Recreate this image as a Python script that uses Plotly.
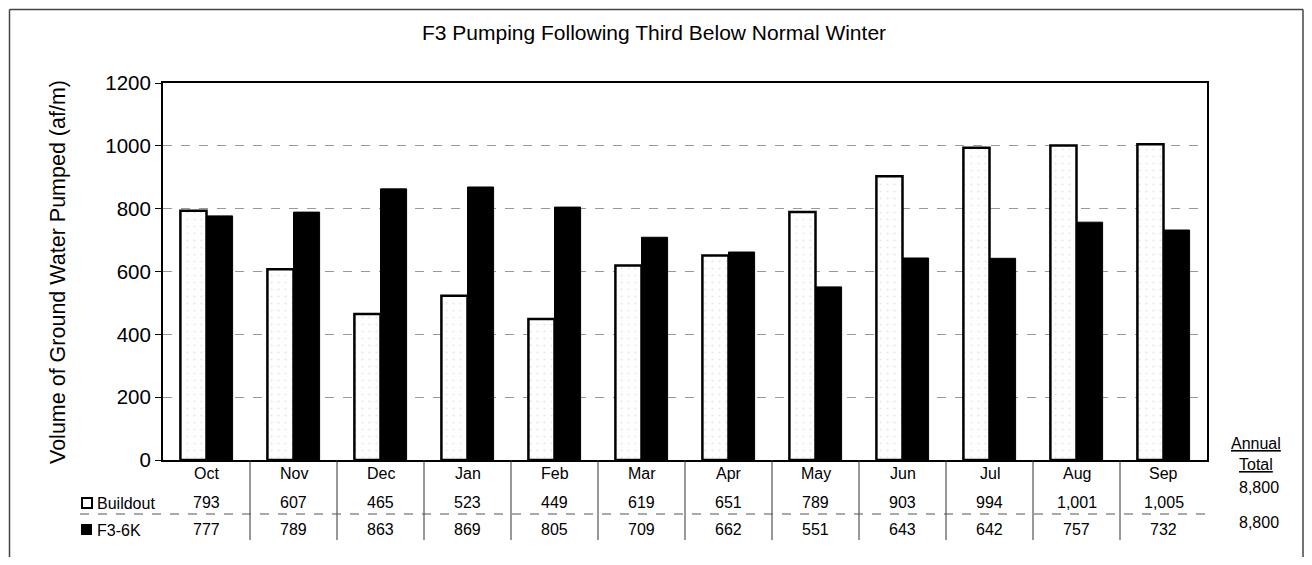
import plotly.graph_objects as go

months = ["Oct", "Nov", "Dec", "Jan", "Feb", "Mar", "Apr", "May", "Jun", "Jul", "Aug", "Sep"]
buildout = [793, 607, 465, 523, 449, 619, 651, 789, 903, 994, 1001, 1005]
f3_6k = [777, 789, 863, 869, 805, 709, 662, 551, 643, 642, 757, 732]
series_names = ["Buildout", "F3-6K"]
annual_totals = ["8,800", "8,800"]
y_ticks = [0, 200, 400, 600, 800, 1000, 1200]

FONT = "Liberation Sans, Arial, Helvetica, sans-serif"

# page body margin offset (browser default)
OFF = 8
W, H = 1312 - 2 * OFF, 565 - 2 * OFF
L = 163 - OFF
T = 83 - OFF
PW, PH = 1044, 377
R = W - L - PW
B = H - T - PH


def px(x):
    """reference screen x -> paper x"""
    return (x - OFF - L) / PW


def py(y):
    """reference screen y -> paper y"""
    return (T + PH - (y - OFF)) / PH


fig = go.Figure()
fig.add_trace(go.Bar(
    x=months, y=buildout, name=series_names[0],
    marker=dict(color="white", line=dict(color="black", width=2.5),
                pattern=dict(shape=".", fgcolor="#cfcfcf", size=7, solidity=0.08)),
))
fig.add_trace(go.Bar(
    x=months, y=f3_6k, name=series_names[1],
    marker=dict(color="black", line=dict(color="black", width=1)),
))

shapes = []
annotations = []
TF = dict(size=16, color="black", family=FONT)


def ann(x, y, text, xref="paper", xanchor="center", **kw):
    annotations.append(dict(x=x, y=y, xref=xref, yref="paper", text=text,
                            xanchor=xanchor, yanchor="middle", showarrow=False,
                            font=kw.pop("font", TF), **kw))


# table: month labels and values
for i, m in enumerate(months):
    ann(m, py(473), m, xref="x")
    ann(m, py(502), f"{buildout[i]:,}", xref="x")
    ann(m, py(529), f"{f3_6k[i]:,}", xref="x")

# column dividers
for i in range(len(months) - 1):
    shapes.append(dict(type="line", xref="x", yref="paper", x0=i + 0.5, x1=i + 0.5,
                       y0=0, y1=py(540), line=dict(color="#333", width=1)))

# dashed separator between table rows
shapes.append(dict(type="line", xref="paper", yref="paper", x0=px(80), x1=1.0,
                   y0=py(514), y1=py(514), line=dict(color="#555", width=1, dash="dash")))

# legend icons
shapes.append(dict(type="rect", xref="paper", yref="paper", x0=px(82), x1=px(92),
                   y0=py(508), y1=py(498), fillcolor="white", line=dict(color="black", width=2)))
shapes.append(dict(type="rect", xref="paper", yref="paper", x0=px(81), x1=px(92),
                   y0=py(535), y1=py(524), fillcolor="black", line=dict(color="black", width=0)))
ann(px(95), py(503), series_names[0], xanchor="left")
ann(px(95), py(530), series_names[1], xanchor="left")

# annual totals
ann(px(1256), py(443), "<u>Annual</u>")
ann(px(1256), py(465), "<u>Total</u>")
ann(px(1259), py(487), annual_totals[0])
ann(px(1259), py(522), annual_totals[1])

# y axis title
ann(px(58), py(272), "Volume of Ground Water Pumped (af/m)", textangle=-90,
    font=dict(size=21.5, color="black", family=FONT))

# outer frame (left, top, right)
frame = dict(color="#444", width=1.5)
fx0, fx1, fy0, fy1 = px(9.5), px(1303), py(600), py(9.5)
shapes.append(dict(type="line", xref="paper", yref="paper", x0=fx0, x1=fx0, y0=fy0, y1=fy1, line=frame))
shapes.append(dict(type="line", xref="paper", yref="paper", x0=fx0, x1=fx1, y0=fy1, y1=fy1, line=frame))
shapes.append(dict(type="line", xref="paper", yref="paper", x0=fx1, x1=fx1, y0=fy0, y1=fy1, line=frame))

fig.update_layout(
    width=W, height=H,
    margin=dict(l=L, r=R, t=T, b=B),
    paper_bgcolor="white", plot_bgcolor="white",
    barmode="group", bargap=0.4, bargroupgap=0,
    showlegend=False,
    title=dict(text="F3 Pumping Following Third Below Normal Winter",
               x=px(654), xanchor="center", xref="paper",
               y=1 - (33 - OFF) / H, yanchor="middle",
               font=dict(size=21, color="black", family=FONT)),
    shapes=shapes, annotations=annotations,
    font=dict(family=FONT, color="black"),
)
fig.update_xaxes(showticklabels=False, ticks="", showgrid=False,
                 showline=True, linecolor="black", linewidth=2, mirror=True)
fig.update_yaxes(range=[0, 1200], tickvals=y_ticks, ticks="outside", ticklen=6,
                 tickcolor="black", tickfont=dict(size=20.5, color="black", family=FONT),
                 showgrid=True, gridcolor="#999", griddash="dash", gridwidth=1,
                 showline=True, linecolor="black", linewidth=2, mirror=True,
                 zeroline=False)

fig.write_html("out.html")
